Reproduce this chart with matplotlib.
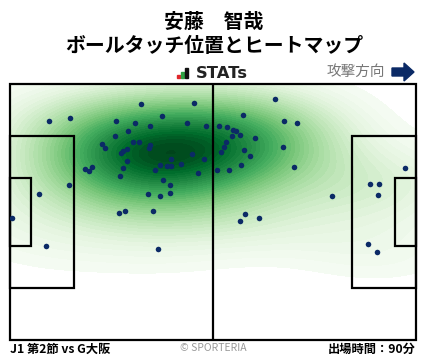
import matplotlib
matplotlib.use('Agg')
import matplotlib.pyplot as plt
from matplotlib.patches import Rectangle, Polygon
import numpy as np

plt.rcParams['font.family'] = ['Noto Sans CJK JP', 'DejaVu Sans']

# ball touch positions (metres, pitch 105 x 68, y measured from top edge)
touch_x = [10.2, 15.6, 34.0, 47.7, 39.4, 27.5, 32.4, 45.9, 50.8, 36.3,
           30.6, 27.2, 31.9, 33.4, 23.9, 24.6, 36.3, 36.0, 30.3, 29.1,
           28.8, 47.1, 50.2, 41.7, 30.3, 44.3, 38.9, 40.7, 41.7, 19.5,
           20.5, 21.3, 29.3, 37.6, 48.7, 28.5, 39.6, 41.5, 15.3, 7.6,
           35.8, 38.9, 41.5, 28.3, 29.8, 37.1, 38.4, 0.5, 9.4,
           68.6, 60.3, 70.9, 74.3, 54.1, 56.2, 57.7, 58.4, 57.5, 59.6,
           63.4, 55.9, 55.4, 54.6, 60.6, 62.1, 70.7, 53.6, 56.7, 59.8,
           73.5, 83.4, 93.2, 95.5, 95.3, 102.2, 60.9, 59.6, 64.5, 92.7, 95.0]
touch_y = [9.9, 9.1, 5.4, 5.1, 8.6, 9.9, 10.4, 10.4, 11.2, 11.2,
           12.6, 13.9, 15.5, 15.5, 16.0, 16.9, 16.3, 16.9, 17.3, 17.9,
           18.4, 18.7, 20.0, 20.0, 20.5, 21.3, 21.6, 21.9, 21.9, 22.7,
           23.2, 22.1, 22.4, 22.9, 23.7, 24.5, 25.6, 26.9, 26.9, 29.3,
           29.3, 29.8, 29.0, 34.3, 33.8, 33.8, 43.9, 35.7, 43.1,
           4.1, 8.3, 9.9, 10.4, 11.2, 11.5, 12.3, 12.6, 13.9, 13.6,
           14.4, 15.5, 16.8, 18.1, 17.6, 19.2, 16.8, 22.9, 22.9, 21.6,
           22.1, 29.8, 26.6, 26.6, 29.6, 22.4, 34.6, 36.5, 35.7, 42.6, 44.7]

player_name = '安藤\u3000智哉'
chart_title = 'ボールタッチ位置とヒートマップ'
match_label = 'J1 第2節 vs G大阪'
minutes_label = '出場時間：90分'

W, H = 428, 359
fig = plt.figure(figsize=(W / 100, H / 100), dpi=100)


def fx(x):
    return x / W


def fy(y):
    return 1 - y / H


# gaussian kde (scott bandwidth, widened)
pts = np.vstack([touch_x, touch_y])
n = pts.shape[1]
factor = n ** (-1 / 6) * 1.5
cov = np.cov(pts) * factor ** 2
inv = np.linalg.inv(cov)
gx, gy = np.meshgrid(np.linspace(-25, 130, 260), np.linspace(-25, 93, 200))
dens = np.zeros_like(gx)
for px_, py_ in pts.T:
    dx = gx - px_
    dy = gy - py_
    dens += np.exp(-0.5 * (inv[0, 0] * dx * dx + 2 * inv[0, 1] * dx * dy + inv[1, 1] * dy * dy))

# iso-proportion levels
nlev = 40
asc = np.sort(dens.ravel())
cum = np.cumsum(asc)
cum /= cum[-1]
props = np.linspace(0.032, 0.999, nlev)
levels = [asc[np.searchsorted(cum, p)] for p in props] + [dens.max() * 1.01]
cols = plt.cm.Greens(np.linspace(0.02, 1.0, nlev))

ax = fig.add_axes([fx(10), fy(340), 406 / W, 256 / H])
ax.contourf(gx, gy, dens, levels=levels, colors=cols, zorder=0)
ax.set_xlim(0, 105)
ax.set_ylim(68, 0)
ax.set_xticks([])
ax.set_yticks([])
for s in ax.spines.values():
    s.set_visible(False)

lw = 1.6
lines = dict(fill=False, edgecolor='black', linewidth=lw, zorder=3, clip_on=False)
ax.add_patch(Rectangle((0, 0), 105, 68, **lines))
ax.plot([52.5, 52.5], [0, 68], color='black', lw=lw, zorder=3)
# penalty and goal areas
ax.add_patch(Rectangle((0, 13.84), 16.5, 40.32, **lines))
ax.add_patch(Rectangle((0, 24.84), 5.5, 18.32, **lines))
ax.add_patch(Rectangle((88.5, 13.84), 16.5, 40.32, **lines))
ax.add_patch(Rectangle((99.5, 24.84), 5.5, 18.32, **lines))

ax.scatter(touch_x, touch_y, s=16, color='#0b2a66', zorder=4, linewidths=0)

# header
fig.text(0.5, fy(21), player_name, ha='center', va='center',
         fontsize=14.3, fontweight='bold')
fig.text(0.5, fy(46), chart_title, ha='center', va='center',
         fontsize=14.3, fontweight='bold')

# STATs logo
bars = [(177, 3.5, '#e0262b'), (181, 6, '#2ea043'), (185, 10, '#111111')]
for bx, bh, bc in bars:
    fig.add_artist(Rectangle((fx(bx), fy(78)), 3 / W, bh / H, color=bc,
                             transform=fig.transFigure))
fig.text(fx(196), fy(73), 'STATs', ha='left', va='center', fontsize=11.8,
         fontweight='bold', color='#222222', family='DejaVu Sans')

fig.text(fx(385), fy(72), '攻撃方向', ha='right', va='center',
         fontsize=10.5, color='#777777')
arrow = [(392, 68), (404, 68), (404, 63), (414, 72), (404, 81), (404, 76), (392, 76)]
fig.add_artist(Polygon([(fx(a), fy(b)) for a, b in arrow], closed=True,
                       color='#0b2a66', transform=fig.transFigure))

# footer
fig.text(fx(10), fy(349), match_label, ha='left', va='center',
         fontsize=8.8, fontweight='bold')
fig.text(fx(213), fy(348), '© SPORTERIA', ha='center', va='center',
         fontsize=7.5, color='#999999')
fig.text(fx(416), fy(349), minutes_label, ha='right', va='center',
         fontsize=8.8, fontweight='bold')

fig.savefig('out.png', dpi=100, facecolor='white')
